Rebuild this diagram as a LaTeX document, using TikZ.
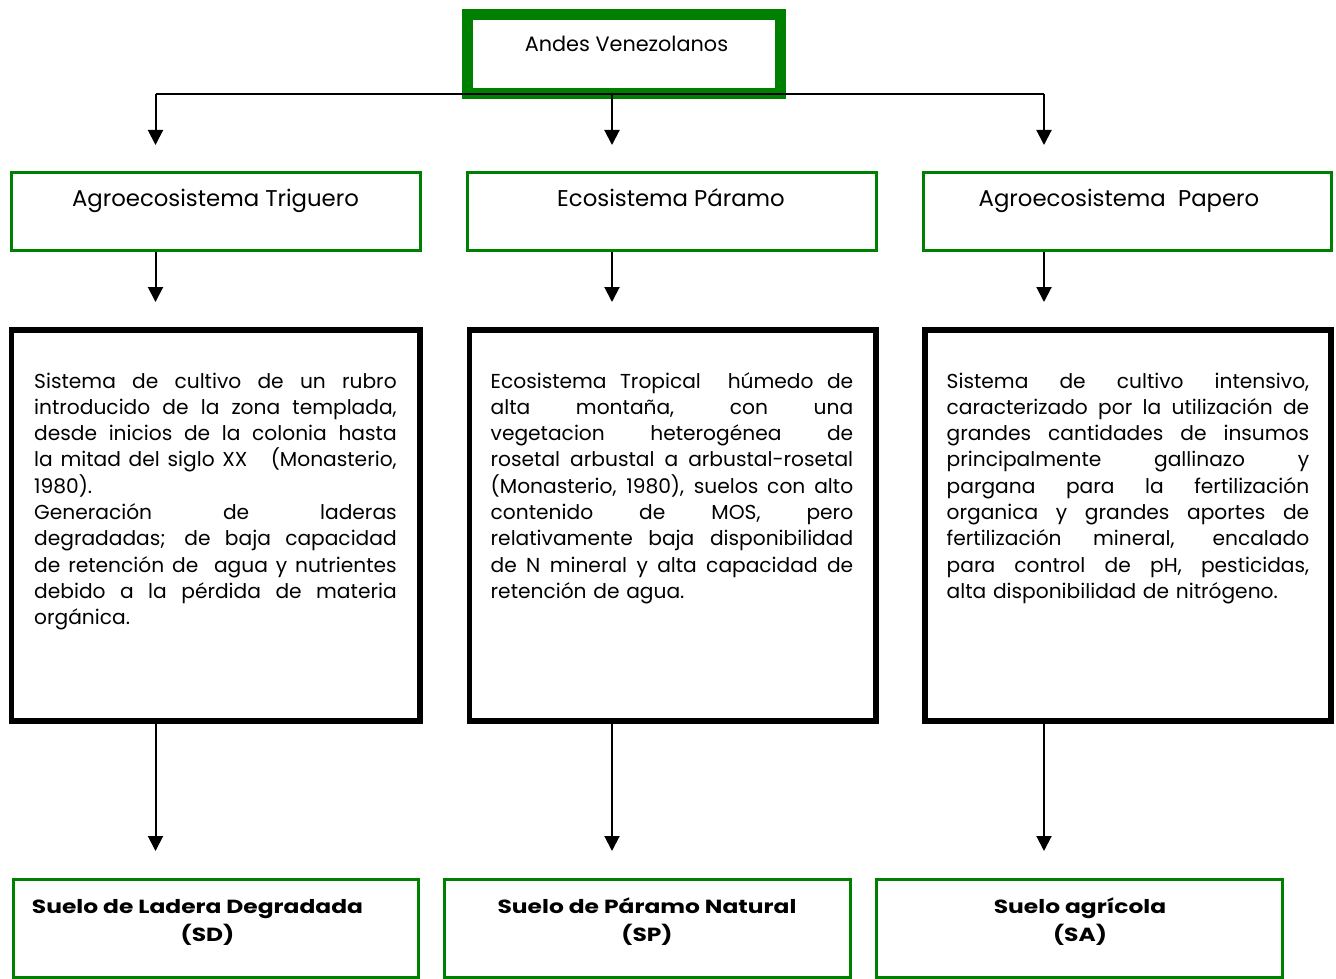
\documentclass[tikz,border=0pt]{standalone}
\usepackage{fontspec}
\setmainfont{Poppins}
\newfontfamily\soilfont[FakeStretch=1.23]{Poppins}
\usetikzlibrary{arrows.meta}
\definecolor{frame}{RGB}{0,128,0}
% one justified line of fixed width, and a ragged last line
\newlength\colw
\setlength\colw{362.5pt}
\newcommand\justline[1]{\hbox to \colw{\spaceskip=0.28em plus 1fil\relax #1}}
\newcommand\lastline[1]{\hbox to \colw{#1\hfil}}
\tikzset{
  topbox/.style={draw=frame, line width=11pt, minimum width=312.5pt, minimum height=78.5pt, inner sep=0pt},
  headbox/.style={draw=frame, line width=3pt, minimum width=408.5pt, minimum height=77.5pt, inner sep=0pt},
  descbox/.style={draw=black, line width=5.5pt, inner sep=0pt},
  soilbox/.style={draw=frame, line width=3pt, inner sep=0pt},
  toptext/.style={inner sep=0pt, anchor=base, font=\fontsize{20.8}{24}\selectfont},
  headtext/.style={inner sep=0pt, anchor=base, font=\fontsize{22.8}{26}\selectfont},
  bodytext/.style={inner sep=0pt, anchor=base west, text width=362.5pt, font=\fontsize{20.2}{26.3}\selectfont},
  soiltext/.style={inner sep=0pt, anchor=base, font=\soilfont\fontsize{19}{22}\selectfont\bfseries},
  arr/.style={draw=black, line width=2pt, -{Triangle[width=15pt,length=15pt]}},
  bus/.style={draw=black, line width=2pt}
}
\begin{document}
\begin{tikzpicture}[x=1pt, y=-1pt]
\useasboundingbox (0,0) rectangle (1336,979);

% top frame
\node[topbox] (andes) at (623.75,54.25) {};
\node[toptext] (andesT) at (626.5,52) {Andes Venezolanos};

% second row: system names
\node[headbox] (trig) at (215.9,211.25) {};
\node[headbox] (param) at (672,211.25) {};
\node[headbox] (pap) at (1127.5,211.25) {};
\node[headtext] (trigT) at (215.5,206.7) {Agroecosistema Triguero};
\node[headtext] (paramT) at (671,206.7) {Ecosistema Páramo};
\node[headtext] (papT) at (1119,206.7) {Agroecosistema\ \ Papero};

% third row: descriptions
\node[descbox, minimum width=408.3pt, minimum height=391pt] (descL) at (215.85,525.5) {};
\node[descbox, minimum width=406.5pt, minimum height=391pt] (descM) at (672.75,525.5) {};
\node[descbox, minimum width=406pt, minimum height=391pt] (descR) at (1128,525.5) {};

\node[bodytext] (txtL) at (34,388) {%
\justline{Sistema de cultivo de un rubro}
\justline{introducido de la zona templada,}
\justline{desde inicios de la colonia hasta}
\justline{la mitad del siglo XX\ \ \ (Monasterio,}
\lastline{1980).}
\justline{Generación de laderas}
\justline{degradadas; de baja capacidad}
\justline{de retención de\ \ agua y nutrientes}
\justline{debido a la pérdida de materia}
\lastline{orgánica.}};

\node[bodytext] (txtM) at (490.5,388) {%
\justline{Ecosistema Tropical\ \ húmedo de}
\justline{alta montaña, con una}
\justline{vegetacion heterogénea de}
\justline{rosetal arbustal a arbustal-rosetal}
\justline{(Monasterio, 1980), suelos con alto}
\justline{contenido de MOS, pero}
\justline{relativamente baja disponibilidad}
\justline{de N mineral y alta capacidad de}
\lastline{retención de agua.}};

\node[bodytext] (txtR) at (946.5,388) {%
\justline{Sistema de cultivo intensivo,}
\justline{caracterizado por la utilización de}
\justline{grandes cantidades de insumos}
\justline{principalmente gallinazo y}
\justline{pargana para la fertilización}
\justline{organica y grandes aportes de}
\justline{fertilización mineral, encalado}
\justline{para control de pH, pesticidas,}
\lastline{alta disponibilidad de nitrógeno.}};

% bottom row: soil types
\node[soilbox, minimum width=405pt, minimum height=98pt] (soilL) at (215.5,928) {};
\node[soilbox, minimum width=406pt, minimum height=98pt] (soilM) at (647.5,928) {};
\node[soilbox, minimum width=406pt, minimum height=98pt] (soilR) at (1079.5,928) {};
\node[soiltext] (soilLa) at (197.5,913) {Suelo de Ladera Degradada};
\node[soiltext] (soilLb) at (207.5,941) {(SD)};
\node[soiltext] (soilMa) at (647,913) {Suelo de Páramo Natural};
\node[soiltext] (soilMb) at (647,941) {(SP)};
\node[soiltext] (soilRa) at (1080,913) {Suelo agrícola};
\node[soiltext] (soilRb) at (1080,941) {(SA)};

% connectors
\coordinate (busL) at (155.5,94);
\coordinate (busM) at (612,94);
\coordinate (busR) at (1044,94);
\coordinate (t1L) at (155.5,145);
\coordinate (t1M) at (612,145);
\coordinate (t1R) at (1044,145);
\coordinate (t2L) at (155.5,302);
\coordinate (t2M) at (612,302);
\coordinate (t2R) at (1044,302);
\coordinate (t3L) at (155.5,851);
\coordinate (t3M) at (612,851);
\coordinate (t3R) at (1044,851);

\draw[bus] (busL) -- (busR);
\draw[arr] (busL) -- (t1L);
\draw[arr] (busM) -- (t1M);
\draw[arr] (busR) -- (t1R);
\draw[arr] (trig.south -| t2L) -- (t2L);
\draw[arr] (param.south -| t2M) -- (t2M);
\draw[arr] (pap.south -| t2R) -- (t2R);
\draw[arr] (descL.south -| t3L) -- (t3L);
\draw[arr] (descM.south -| t3M) -- (t3M);
\draw[arr] (descR.south -| t3R) -- (t3R);
\end{tikzpicture}
\end{document}
